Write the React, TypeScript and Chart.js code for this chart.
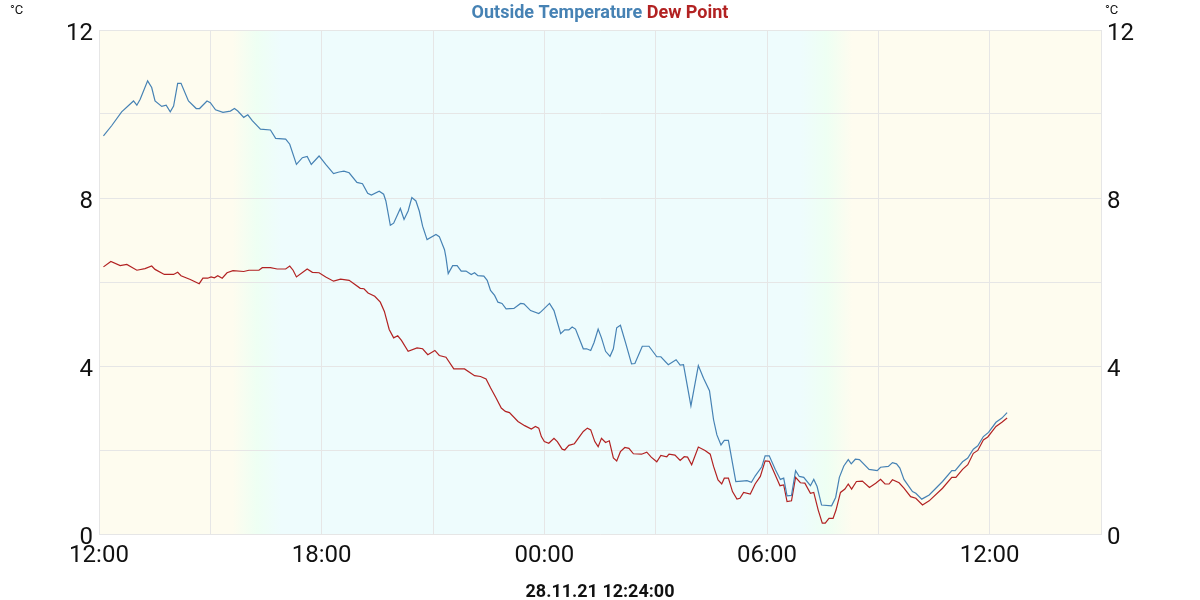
import { useEffect, useRef } from "react";
import { Chart, registerables } from "chart.js";

Chart.register(...registerables);

// hours counted from 12:00 on the first day
const tempHours = [
  0.12, 0.34, 0.61, 0.93, 1.02, 1.11, 1.31, 1.42, 1.51, 1.69, 1.81, 1.92, 2.01, 2.12, 2.21, 2.41, 2.62, 2.71, 2.91, 3.0,
  3.14, 3.34, 3.54, 3.65, 3.74, 3.9, 4.01, 4.13, 4.35, 4.62, 4.76, 5.03, 5.14, 5.32, 5.48, 5.61, 5.72, 5.93, 6.11, 6.32,
  6.47, 6.6, 6.74, 6.95, 7.1, 7.24, 7.34, 7.55, 7.67, 7.73, 7.85, 7.94, 8.12, 8.22, 8.33, 8.43, 8.54, 8.63, 8.72, 8.84,
  9.08, 9.17, 9.31, 9.35, 9.41, 9.53, 9.65, 9.76, 9.89, 10.03, 10.12, 10.21, 10.37, 10.46, 10.55, 10.66, 10.75, 10.86,
  10.97, 11.18, 11.36, 11.45, 11.63, 11.85, 11.92, 12.14, 12.26, 12.44, 12.55, 12.66, 12.75, 12.84, 13.05, 13.14, 13.25,
  13.34, 13.45, 13.54, 13.65, 13.77, 13.86, 13.95, 14.05, 14.19, 14.35, 14.44, 14.64, 14.82, 15.03, 15.14, 15.34, 15.55,
  15.66, 15.75, 15.95, 16.15, 16.29, 16.45, 16.56, 16.65, 16.76, 16.85, 16.96, 17.07, 17.16, 17.32, 17.46, 17.58, 17.68,
  17.86, 17.95, 18.06, 18.22, 18.36, 18.45, 18.54, 18.66, 18.77, 18.87, 18.99, 19.17, 19.26, 19.35, 19.47, 19.74, 19.85,
  19.95, 20.07, 20.19, 20.27, 20.38, 20.49, 20.75, 20.97, 21.06, 21.27, 21.38, 21.49, 21.58, 21.69, 21.92, 22.01, 22.17,
  22.37, 22.73, 22.98, 23.07, 23.27, 23.41, 23.56, 23.68, 23.83, 23.97, 24.17, 24.33, 24.47,
];
const tempValues = [
  9.48, 9.72, 10.05, 10.31, 10.21, 10.35, 10.79, 10.63, 10.31, 10.18, 10.21, 10.05, 10.19, 10.73, 10.73, 10.31, 10.13,
  10.13, 10.31, 10.27, 10.1, 10.04, 10.07, 10.13, 10.07, 9.92, 9.98, 9.84, 9.64, 9.62, 9.42, 9.4, 9.28, 8.8, 8.96, 8.99,
  8.8, 9.0, 8.8, 8.58, 8.62, 8.64, 8.6, 8.37, 8.34, 8.11, 8.07, 8.16, 8.09, 7.93, 7.35, 7.4, 7.75, 7.49, 7.69, 8.01, 7.93,
  7.69, 7.33, 7.01, 7.13, 7.08, 6.77, 6.58, 6.2, 6.39, 6.39, 6.26, 6.26, 6.18, 6.22, 6.15, 6.14, 6.04, 5.8, 5.68, 5.52,
  5.49, 5.36, 5.37, 5.49, 5.48, 5.32, 5.25, 5.3, 5.49, 5.32, 4.77, 4.86, 4.86, 4.93, 4.88, 4.41, 4.41, 4.37, 4.56, 4.88,
  4.67, 4.35, 4.23, 4.41, 4.91, 4.97, 4.55, 4.05, 4.06, 4.47, 4.47, 4.22, 4.22, 4.03, 4.15, 4.02, 4.03, 3.05, 4.01, 3.71,
  3.41, 2.72, 2.36, 2.12, 2.23, 2.23, 1.69, 1.25, 1.26, 1.27, 1.23, 1.38, 1.6, 1.86, 1.86, 1.54, 1.3, 1.33, 0.91, 0.92,
  1.51, 1.37, 1.35, 1.15, 1.3, 1.13, 0.69, 0.67, 0.87, 1.35, 1.62, 1.77, 1.67, 1.78, 1.77, 1.54, 1.51, 1.59, 1.61, 1.7,
  1.67, 1.57, 1.3, 1.01, 0.97, 0.83, 0.93, 1.25, 1.51, 1.51, 1.72, 1.81, 2.02, 2.1, 2.32, 2.42, 2.66, 2.76, 2.89,
];

const dewHours = [
  0.12, 0.32, 0.57, 0.75, 1.02, 1.24, 1.42, 1.51, 1.76, 2.01, 2.12, 2.21, 2.46, 2.7, 2.8, 2.93, 3.02, 3.11, 3.2, 3.32,
  3.45, 3.61, 3.9, 4.04, 4.31, 4.4, 4.62, 4.8, 5.03, 5.14, 5.23, 5.32, 5.61, 5.75, 5.93, 6.11, 6.32, 6.51, 6.74, 6.87,
  7.04, 7.14, 7.25, 7.43, 7.58, 7.69, 7.82, 7.94, 8.05, 8.15, 8.33, 8.57, 8.72, 8.86, 9.05, 9.17, 9.35, 9.56, 9.85,
  10.12, 10.28, 10.43, 10.55, 10.7, 10.84, 10.95, 11.06, 11.29, 11.47, 11.65, 11.76, 11.85, 11.92, 12.0, 12.12, 12.26,
  12.35, 12.48, 12.55, 12.66, 12.81, 13.05, 13.16, 13.25, 13.36, 13.45, 13.54, 13.65, 13.75, 13.86, 13.95, 14.05, 14.17,
  14.28, 14.4, 14.62, 14.76, 14.88, 15.03, 15.14, 15.3, 15.36, 15.52, 15.66, 15.77, 15.86, 15.97, 16.15, 16.33, 16.47,
  16.56, 16.68, 16.78, 16.85, 16.96, 17.07, 17.19, 17.27, 17.37, 17.55, 17.68, 17.82, 17.95, 18.06, 18.22, 18.35, 18.45,
  18.54, 18.66, 18.77, 18.9, 19.02, 19.17, 19.26, 19.38, 19.49, 19.57, 19.67, 19.78, 19.86, 19.98, 20.1, 20.19, 20.28,
  20.41, 20.57, 20.76, 20.93, 21.06, 21.18, 21.29, 21.38, 21.56, 21.69, 21.87, 22.01, 22.19, 22.37, 22.73, 22.98, 23.09,
  23.27, 23.41, 23.56, 23.68, 23.83, 23.95, 24.17, 24.33, 24.47,
];
const dewValues = [
  6.36, 6.49, 6.39, 6.42, 6.28, 6.32, 6.38, 6.3, 6.18, 6.18, 6.23, 6.15, 6.06, 5.96, 6.09, 6.09, 6.12, 6.1, 6.15, 6.09,
  6.22, 6.27, 6.25, 6.28, 6.28, 6.34, 6.34, 6.31, 6.31, 6.38, 6.28, 6.12, 6.31, 6.23, 6.22, 6.12, 6.02, 6.07, 6.04, 5.96,
  5.85, 5.84, 5.74, 5.66, 5.52, 5.3, 4.87, 4.67, 4.72, 4.61, 4.35, 4.43, 4.41, 4.27, 4.37, 4.25, 4.21, 3.93, 3.93, 3.77,
  3.75, 3.69, 3.48, 3.24, 3.0, 2.92, 2.89, 2.68, 2.58, 2.5, 2.56, 2.52, 2.32, 2.2, 2.16, 2.28, 2.2, 2.02, 2.0, 2.11, 2.15,
  2.44, 2.52, 2.48, 2.2, 2.08, 2.28, 2.18, 2.22, 1.81, 1.74, 1.96, 2.06, 2.04, 1.91, 1.9, 1.95, 1.83, 1.72, 1.87, 1.84,
  1.9, 1.88, 1.75, 1.84, 1.83, 1.65, 2.07, 1.99, 1.9, 1.61, 1.29, 1.19, 1.33, 1.33, 1.01, 0.83, 0.85, 0.99, 0.95, 1.19,
  1.37, 1.74, 1.73, 1.41, 1.15, 1.17, 0.77, 0.79, 1.35, 1.22, 1.21, 0.97, 0.99, 0.57, 0.26, 0.26, 0.37, 0.37, 0.57, 0.99,
  1.07, 1.19, 1.07, 1.25, 1.26, 1.11, 1.21, 1.3, 1.19, 1.19, 1.29, 1.22, 1.09, 0.89, 0.85, 0.69, 0.79, 1.09, 1.35, 1.35,
  1.54, 1.65, 1.92, 1.99, 2.24, 2.31, 2.56, 2.66, 2.76,
];

// day / night background bands (hours from 12:00)
const duskStart = 3.6;
const duskEnd = 4.9;
const dawnStart = 18.9;
const dawnEnd = 20.3;

const TEMP_COLOR = "#4682b4";
const DEW_COLOR = "#b22222";
const GRID_COLOR = "#e6e6e6";
const FONT = "Roboto, sans-serif";

const formatHour = (h: number) => {
  const hh = (12 + h) % 24;
  return String(hh).padStart(2, "0") + ":00";
};

const App = () => {
  const chartRef = useRef<HTMLCanvasElement>(null);
  const chartInstance = useRef<Chart | null>(null);

  useEffect(() => {
    if (!chartRef.current) return;
    if (chartInstance.current) chartInstance.current.destroy();

    // background gradient: yellow by day, cyan by night
    const bgPlugin = {
      id: "dayNightBg",
      beforeDraw(chart: any) {
        const { ctx, chartArea, scales } = chart;
        const { left, right, top, bottom } = chartArea;
        const w = right - left;
        const pos = (h: number) => Math.min(1, Math.max(0, (scales.x.getPixelForValue(h) - left) / w));
        const g = ctx.createLinearGradient(left, 0, right, 0);
        const day = "#fefcef";
        const twilight = "#eefff3";
        const night = "#eefcfd";
        g.addColorStop(0, day);
        g.addColorStop(pos(duskStart), day);
        g.addColorStop((pos(duskStart) + pos(duskEnd)) / 2, twilight);
        g.addColorStop(pos(duskEnd), night);
        g.addColorStop(pos(dawnStart), night);
        g.addColorStop((pos(dawnStart) + pos(dawnEnd)) / 2, twilight);
        g.addColorStop(pos(dawnEnd), day);
        g.addColorStop(1, day);
        ctx.save();
        ctx.fillStyle = g;
        ctx.fillRect(left, top, w, bottom - top);
        ctx.restore();
      },
    };

    // title, units and timestamp
    const textPlugin = {
      id: "texts",
      afterDraw(chart: any) {
        const { ctx } = chart;
        ctx.save();
        ctx.textBaseline = "middle";
        ctx.font = `bold 18px ${FONT}`;
        const t1 = "Outside Temperature ";
        const t2 = "Dew Point";
        const w1 = ctx.measureText(t1).width;
        const w2 = ctx.measureText(t2).width;
        let x = 600 - (w1 + w2) / 2;
        ctx.textAlign = "left";
        ctx.fillStyle = TEMP_COLOR;
        ctx.fillText(t1, x, 13);
        ctx.fillStyle = DEW_COLOR;
        ctx.fillText(t2, x + w1, 13);

        ctx.font = `13px ${FONT}`;
        ctx.fillStyle = "#111";
        ctx.fillText("°C", 10, 11);
        ctx.fillText("°C", 1105, 11);

        ctx.font = `bold 18px ${FONT}`;
        ctx.textAlign = "center";
        ctx.fillText("28.11.21 12:24:00", 600, 592);
        ctx.restore();
      },
    };

    const yTicks = {
      stepSize: 2,
      padding: 6,
      labelOffset: 4,
      color: "#111",
      font: { family: FONT, size: 24 },
      callback: (v: any) => (v % 4 === 0 ? String(v) : ""),
    };

    chartInstance.current = new Chart(chartRef.current, {
      type: "line",
      data: {
        datasets: [
          {
            label: "Outside Temperature",
            data: tempHours.map((h, i) => ({ x: h, y: tempValues[i] })),
            borderColor: TEMP_COLOR,
            borderWidth: 1.2,
            pointRadius: 0,
            tension: 0,
            yAxisID: "y",
          },
          {
            label: "Dew Point",
            data: dewHours.map((h, i) => ({ x: h, y: dewValues[i] })),
            borderColor: DEW_COLOR,
            borderWidth: 1.2,
            pointRadius: 0,
            tension: 0,
            yAxisID: "y",
          },
        ],
      },
      options: {
        animation: false,
        responsive: true,
        maintainAspectRatio: false,
        layout: { padding: { top: 30, left: 0, right: 0, bottom: 0 } },
        plugins: {
          legend: { display: false },
          tooltip: { enabled: false },
          title: { display: false },
        },
        scales: {
          x: {
            type: "linear",
            min: 0,
            max: 27,
            afterFit: (s: any) => {
              s.height = 66;
            },
            grid: { color: GRID_COLOR, drawTicks: false },
            border: { color: GRID_COLOR },
            ticks: {
              stepSize: 3,
              padding: 8,
              maxRotation: 0,
              autoSkip: false,
              color: "#111",
              font: { family: FONT, size: 24 },
              callback: (v: any) => (v % 6 === 0 ? formatHour(v) : ""),
            },
          },
          y: {
            position: "left",
            min: 0,
            max: 12,
            afterFit: (s: any) => {
              s.width = 99;
            },
            grid: { color: GRID_COLOR, drawTicks: false },
            border: { color: GRID_COLOR },
            ticks: yTicks,
          },
          y2: {
            position: "right",
            min: 0,
            max: 12,
            display: true,
            afterFit: (s: any) => {
              s.width = 99;
            },
            grid: { drawOnChartArea: false, drawTicks: false },
            border: { color: GRID_COLOR },
            ticks: yTicks,
          },
        },
      },
      plugins: [bgPlugin, textPlugin],
    } as any);

    return () => {
      if (chartInstance.current) {
        chartInstance.current.destroy();
        chartInstance.current = null;
      }
    };
  }, []);

  return (
    <div style={{ position: "absolute", left: 0, top: 0, width: 1200, height: 600, background: "#fff" }}>
      <canvas ref={chartRef}></canvas>
    </div>
  );
};

export default App;
